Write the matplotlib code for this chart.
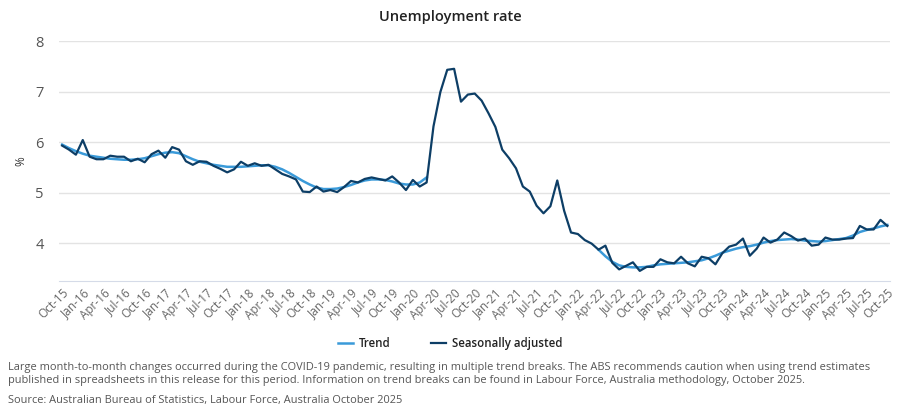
import numpy as np
import matplotlib
matplotlib.use('Agg')
import matplotlib.pyplot as plt

plt.rcParams['font.family'] = ['Open Sans', 'DejaVu Sans']

# monthly, Oct-15 .. Oct-25
sa = [5.93, 5.85, 5.75, 6.04, 5.71, 5.66, 5.66, 5.73, 5.71, 5.71, 5.62, 5.67,
      5.60, 5.76, 5.83, 5.69, 5.90, 5.85, 5.62, 5.55, 5.62, 5.61, 5.53, 5.47,
      5.40, 5.46, 5.61, 5.53, 5.58, 5.53, 5.55, 5.46, 5.37, 5.32, 5.26, 5.02,
      5.01, 5.12, 5.02, 5.05, 5.01, 5.11, 5.23, 5.20, 5.27, 5.30, 5.27, 5.24,
      5.32, 5.20, 5.05, 5.25, 5.12, 5.20, 6.31, 6.99, 7.43, 7.45, 6.80, 6.94,
      6.96, 6.82, 6.57, 6.30, 5.85, 5.68, 5.48, 5.12, 5.02, 4.74, 4.59, 4.73,
      5.24, 4.64, 4.21, 4.18, 4.06, 3.99, 3.87, 3.95, 3.61, 3.48, 3.55, 3.62,
      3.45, 3.53, 3.53, 3.68, 3.62, 3.60, 3.73, 3.60, 3.54, 3.73, 3.70, 3.58,
      3.80, 3.93, 3.97, 4.09, 3.75, 3.89, 4.11, 4.01, 4.07, 4.21, 4.14, 4.05,
      4.09, 3.95, 3.97, 4.11, 4.07, 4.07, 4.09, 4.10, 4.34, 4.27, 4.27, 4.46,
      4.34]

nan = np.nan
trend = [5.95, 5.88, 5.82, 5.77, 5.73, 5.71, 5.69, 5.67, 5.66, 5.65, 5.65, 5.66,
         5.68, 5.72, 5.76, 5.79, 5.80, 5.78, 5.72, 5.66, 5.61, 5.58, 5.55, 5.53,
         5.51, 5.51, 5.51, 5.52, 5.53, 5.54, 5.54, 5.51, 5.46, 5.39, 5.31, 5.23,
         5.16, 5.10, 5.07, 5.07, 5.08, 5.11, 5.15, 5.20, 5.24, 5.26, 5.26, 5.25,
         5.22, 5.18, 5.16, 5.16, 5.20, 5.30] + [nan] * 24 + \
        [3.87, 3.74, 3.63, 3.56, 3.53, 3.52, 3.52, 3.53, 3.56, 3.58, 3.59, 3.60,
         3.61, 3.62, 3.64, 3.66, 3.70, 3.75, 3.81, 3.85, 3.89, 3.92, 3.94, 3.97,
         4.01, 4.04, 4.06, 4.07, 4.08, 4.07, 4.05, 4.04, 4.03, 4.04, 4.06, 4.08,
         4.10, 4.15, 4.22, 4.26, 4.29, 4.33, 4.36]

months = ['Oct', 'Jan', 'Apr', 'Jul']
tick_labels = []
for k in range(41):
    m = months[k % 4]
    yr = 15 + (k + 3) // 4 if m != 'Oct' else 15 + k // 4
    tick_labels.append(f'{m}-{yr}')

x = np.arange(len(sa))

fig = plt.figure(figsize=(9, 4.11), dpi=100)
ax = fig.add_axes([0.0656, 0.3163, 0.9234, 0.5839])

ax.plot(x, trend, color='#3a9ad9', lw=1.8, label='Trend', zorder=2)
ax.plot(x, sa, color='#0d3e66', lw=1.6, label='Seasonally adjusted', zorder=3)

ax.set_xlim(-0.45, 120.4)
ax.set_ylim(3.25, 8)
ax.set_yticks([4, 5, 6, 7, 8])
ax.set_xticks(np.arange(0, 121, 3))
ax.set_xticklabels(tick_labels, rotation=45, ha='right', rotation_mode='anchor',
                   fontsize=8.5, color='#666666')
ax.tick_params(axis='y', labelsize=10.5, colors='#555555', length=0, pad=11)
ax.tick_params(axis='x', length=0, pad=4)
ax.grid(axis='y', color='#e3e3e3', lw=1)
ax.set_axisbelow(True)
for s in ['top', 'right', 'left']:
    ax.spines[s].set_visible(False)
ax.spines['bottom'].set_color('#d5dbe8')
ax.set_ylabel('%', fontsize=8.5, color='#333333', labelpad=6)

fig.text(0.5, 0.958, 'Unemployment rate', ha='center', va='center',
         fontsize=10.5, fontweight='semibold', color='#222222')

leg = fig.legend(loc='center', bbox_to_anchor=(0.5, 0.165), ncol=2, frameon=False,
                 handlelength=1.3, columnspacing=3.5, handletextpad=0.5,
                 prop={'size': 8.3, 'weight': 'semibold'})
for t in leg.get_texts():
    t.set_color('#222222')

fig.text(0.009, 0.089,
         'Large month-to-month changes occurred during the COVID-19 pandemic, resulting in multiple trend breaks. '
         'The ABS recommends caution when using trend estimates\n'
         'published in spreadsheets in this release for this period. Information on trend breaks can be found '
         'in Labour Force, Australia methodology, October 2025.',
         ha='left', va='center', fontsize=7.9, color='#555555', linespacing=1.25)
fig.text(0.009, 0.025, 'Source: Australian Bureau of Statistics, Labour Force, Australia October 2025',
         ha='left', va='center', fontsize=7.9, color='#555555')

fig.savefig('out.png', dpi=100)
